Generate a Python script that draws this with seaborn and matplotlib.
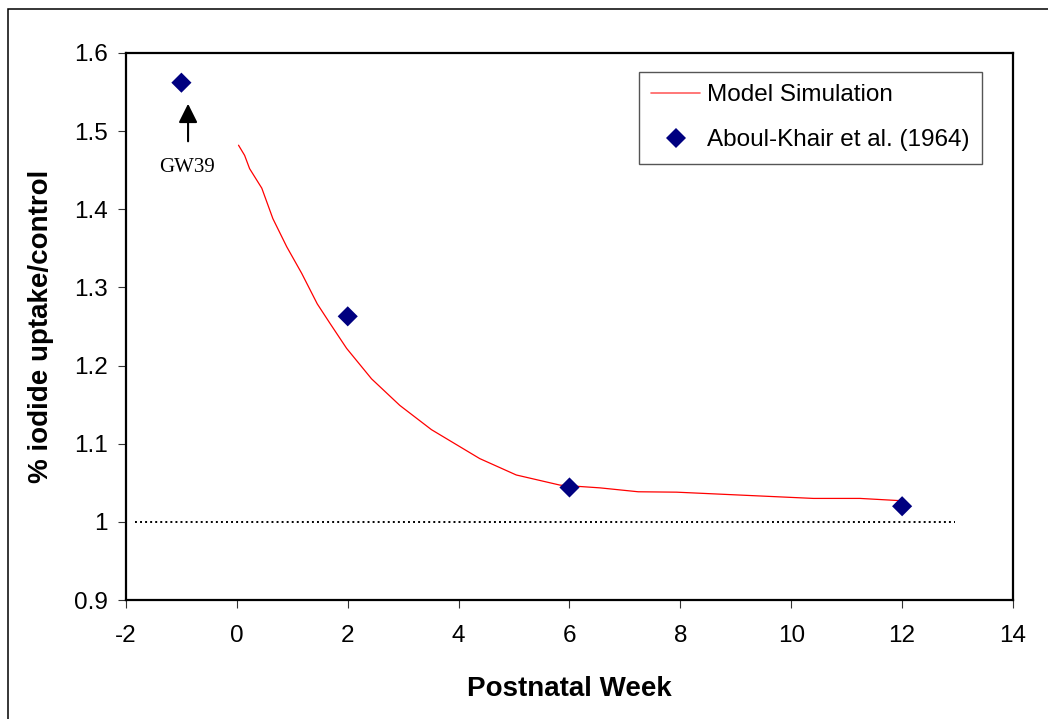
import matplotlib
matplotlib.use("Agg")
import matplotlib.pyplot as plt
from matplotlib.patches import Rectangle
from matplotlib.lines import Line2D
import seaborn as sns
import pandas as pd

# Model simulation: relative iodide uptake vs postnatal week
sim_week = [0.03, 0.14, 0.23, 0.45, 0.65, 0.90, 1.17, 1.45, 1.68, 1.98, 2.43,
            2.94, 3.51, 4.38, 5.04, 5.83, 6.55, 7.24, 7.93, 10.40, 11.24, 12.0]
sim_ratio = [1.482, 1.469, 1.452, 1.427, 1.388, 1.352, 1.318, 1.279, 1.254,
             1.222, 1.183, 1.149, 1.118, 1.081, 1.060, 1.047, 1.0435, 1.0385,
             1.038, 1.030, 1.030, 1.027]

# Observed data (Aboul-Khair et al., 1964)
obs_week = [-1, 2, 6, 12]
obs_ratio = [1.562, 1.263, 1.044, 1.020]

# Control reference level
ref_week = [-1.84, 12.95]
ref_ratio = [1.0, 1.0]

x_ticks = [-2, 0, 2, 4, 6, 8, 10, 12, 14]
y_ticks = [0.9, 1.0, 1.1, 1.2, 1.3, 1.4, 1.5, 1.6]
y_tick_labels = ["0.9", "1", "1.1", "1.2", "1.3", "1.4", "1.5", "1.6"]

sns.set_style("white")
plt.rcParams["font.family"] = ["Liberation Sans", "DejaVu Sans"]
plt.rcParams.update({"text.color": "black", "axes.labelcolor": "black",
                     "xtick.color": "black", "ytick.color": "black"})

sim_df = pd.DataFrame({"week": sim_week, "ratio": sim_ratio})
obs_df = pd.DataFrame({"week": obs_week, "ratio": obs_ratio})

fig = plt.figure(figsize=(10.48, 7.19), dpi=100)
ax = fig.add_axes([0.1202, 0.1655, 0.8464, 0.7608])

# Outer frame around the figure
fig.patches.append(Rectangle((0.0076, -0.05), 1.2, 0.9875 + 0.05,
                             transform=fig.transFigure, fill=False,
                             edgecolor="black", linewidth=1.1))

ax.plot(ref_week, ref_ratio, color="black", linestyle=(0, (1, 1.6)), linewidth=1.4)

sns.lineplot(data=sim_df, x="week", y="ratio", sort=False, estimator=None,
             color="#ff0000", linewidth=0.9, ax=ax)
sns.scatterplot(data=obs_df, x="week", y="ratio", marker="D", s=105,
                color="#000080", edgecolor="none", linewidth=0, ax=ax, zorder=3)

ax.annotate("", xy=(-0.88, 1.535), xytext=(-0.88, 1.487),
            arrowprops=dict(arrowstyle="-|>,head_length=0.82,head_width=0.41",
                            mutation_scale=14, color="black", lw=1.5,
                            shrinkA=0, shrinkB=0))
ax.text(-0.90, 1.454, "GW39", ha="center", va="center", fontsize=15,
        family=["Liberation Serif", "DejaVu Serif"])

ax.set_xlim(-2, 14)
ax.set_ylim(0.9, 1.6)
ax.set_xticks(x_ticks)
ax.set_xticklabels([str(t) for t in x_ticks])
ax.set_yticks(y_ticks)
ax.set_yticklabels(y_tick_labels)

for side in ["left", "right", "top", "bottom"]:
    ax.spines[side].set_visible(True)
    ax.spines[side].set_color("black")
    ax.spines[side].set_linewidth(1.6)

ax.tick_params(axis="both", direction="out", length=6, width=0.8, color="#333333",
               labelsize=17.5, labelcolor="black", bottom=True, left=True)
ax.tick_params(axis="x", pad=12)
ax.tick_params(axis="y", pad=7)

ax.set_xlabel("Postnatal Week", fontsize=20, fontweight="bold")
ax.set_ylabel("% iodide uptake/control", fontsize=20, fontweight="bold")
ax.xaxis.label.set_va("center")
ax.yaxis.label.set_va("center")
ax.xaxis.set_label_coords(0.5, -0.163)
ax.yaxis.set_label_coords(-0.0958, 0.5)

handles = [
    Line2D([], [], color="#ff6060", linewidth=1.2),
    Line2D([], [], color="#000080", marker="D", linestyle="none", markersize=10,
           markeredgewidth=0),
]
leg = ax.legend(handles, ["Model Simulation", "Aboul-Khair et al. (1964)"],
                loc="upper right", bbox_to_anchor=(0.965, 0.965), fontsize=17.5,
                frameon=True, fancybox=False, shadow=False, framealpha=1,
                edgecolor="#555555", borderpad=0.5, labelspacing=0.95,
                handlelength=2.0, handletextpad=0.3, borderaxespad=0)
leg.get_frame().set_linewidth(1.0)

fig.savefig("out.png", dpi=100)
